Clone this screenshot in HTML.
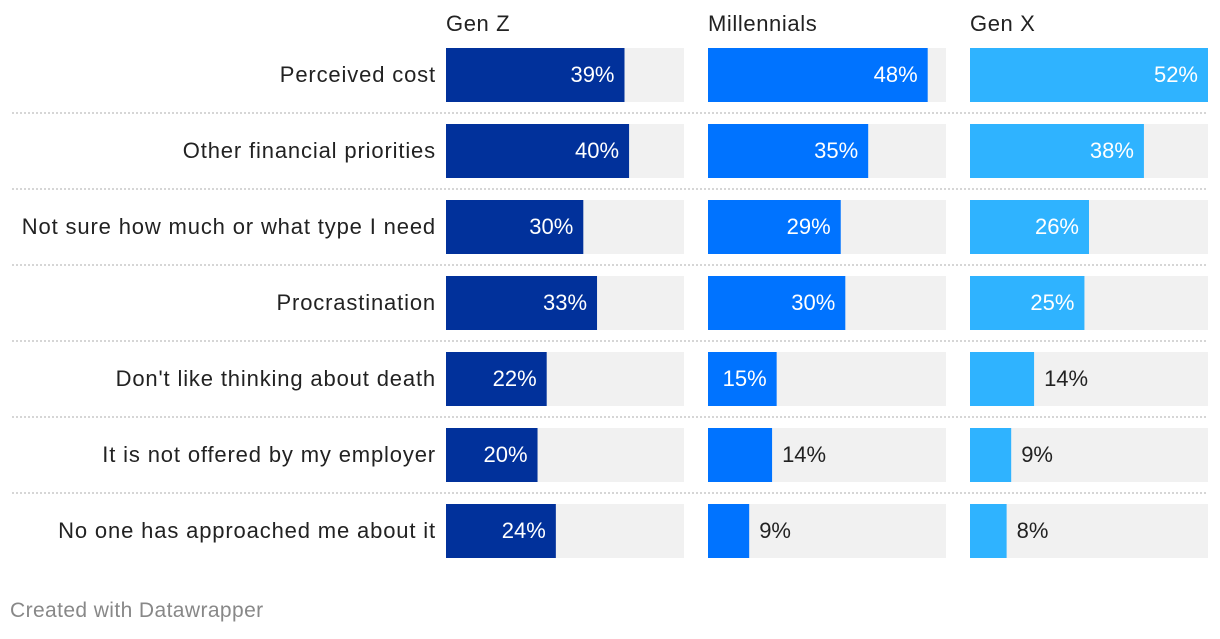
<!DOCTYPE html>
<html><head><meta charset="utf-8"><style>
body{margin:0;background:#fff;width:1220px;height:634px;overflow:hidden;font-family:"Liberation Sans",sans-serif;}
svg text{font-family:"Liberation Sans",sans-serif;}
</style></head><body>
<svg id="c" width="1220" height="634"></svg>
<script>
const categories=["Perceived cost","Other financial priorities","Not sure how much or what type I need","Procrastination","Don't like thinking about death","It is not offered by my employer","No one has approached me about it"];
const seriesNames=["Gen Z","Millennials","Gen X"];
const genZ=[39,40,30,33,22,20,24];
const millennials=[48,35,29,30,15,14,9];
const genX=[52,38,26,25,14,9,8];
const domainMax=52;
const svg=document.getElementById('c');
const NS='http://www.w3.org/2000/svg';
function mk(t,a){const e=document.createElementNS(NS,t);for(const k in a)e.setAttribute(k,a[k]);svg.appendChild(e);return e;}
const colX=[446,708,970],colW=238,colors=["#01319b","#0073ff","#2fb3ff"];
const x=v=>v/domainMax*colW;
const y=i=>48+i*76;
const series=[genZ,millennials,genX];
seriesNames.forEach((n,j)=>{const t=mk('text',{x:colX[j],y:31,'font-size':22,'letter-spacing':0.6,fill:'#222'});t.textContent=n;

});
categories.forEach((c,i)=>{
 const t=mk('text',{x:436,y:y(i)+34,'text-anchor':'end','font-size':22,'letter-spacing':0.85,fill:'#222'});t.textContent=c;
 
 
 if(i<categories.length-1){const l=mk('line',{x1:12,x2:1208,y1:y(i)+65,y2:y(i)+65,stroke:'#c8c8c8','stroke-width':1.5,'stroke-dasharray':'2,2'});
 
 }
 series.forEach((s,j)=>{
  const bg=mk('rect',{x:colX[j],y:y(i),width:colW,height:54,fill:'#f1f1f1'});
  
  
  const w=x(s[i]);
  const r=mk('rect',{x:colX[j],y:y(i),width:w,height:54,fill:colors[j]});
  
  
  const inside=w>=66;
  const lb=mk('text',{x:inside?colX[j]+w-10:colX[j]+w+10,y:y(i)+34,'text-anchor':inside?'end':'start','font-size':22,fill:inside?'#fff':'#222'});
  lb.textContent=s[i]+'%';
  
  
 });
});
const f=mk('text',{x:10,y:617,'font-size':21,'letter-spacing':0.4,fill:'#888'});f.textContent='Created with Datawrapper';


</script>
</body></html>
